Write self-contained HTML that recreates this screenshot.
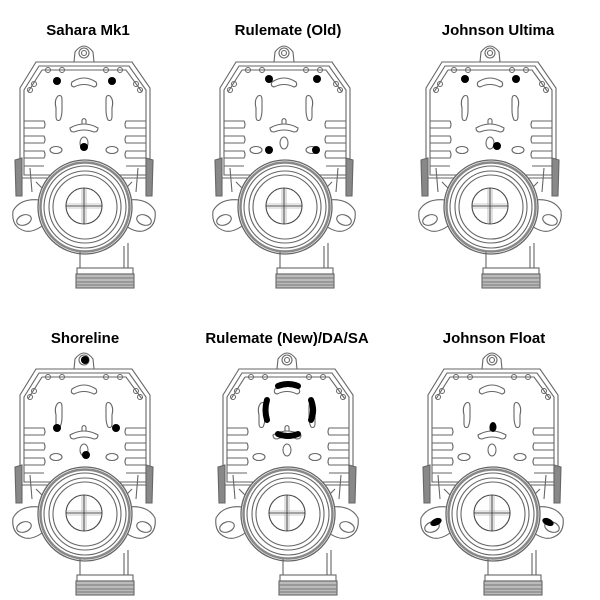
<!DOCTYPE html>
<html><head><style>
html,body{margin:0;padding:0;background:#fff;width:600px;height:600px;overflow:hidden}
svg{display:block}
text{font-family:"Liberation Sans",sans-serif;font-size:15px;fill:#000;text-anchor:middle;font-weight:600}
</style></head><body>
<svg width="600" height="600" viewBox="0 0 600 600">
<defs>
<g id="u" fill="none" stroke="#666" stroke-width="1.1">
  <path d="M74,62 L75,52 Q84,40 93,52 L94,62"/>
  <circle cx="84" cy="53" r="5"/><circle cx="84" cy="53" r="2.5"/>
  <path d="M36,62 L132,62 L150,88 L150,178 L20,178 L20,88 Z"/>
  <path d="M39,66 L129,66 L146,90 L146,175 L24,175 L24,90 Z"/>
  <path d="M42,70 L126,70 L142,92 M28,92 L42,70"/>
  <g stroke-width="1">
  <circle cx="48" cy="70" r="2.5"/><circle cx="62" cy="70" r="2.5"/><circle cx="106" cy="70" r="2.5"/><circle cx="120" cy="70" r="2.5"/>
  <circle cx="34" cy="84" r="2.5"/><circle cx="136" cy="84" r="2.5"/>
  <circle cx="30" cy="90" r="2.5"/><circle cx="140" cy="90" r="2.5"/>
  </g>
  <path d="M72,82 Q84,74 96,82 Q98,86 94,87 Q84,82 74,87 Q70,86 72,82Z"/>
  <path d="M58,96 Q54,100 56,108 L56,116 Q56,122 60,120 Q62,116 62,110 L62,100 Q62,94 58,96Z"/>
  <path d="M110,96 Q114,100 112,108 L112,116 Q112,122 108,120 Q106,116 106,110 L106,100 Q106,94 110,96Z"/>
  <path d="M70,128 Q84,120 98,128 Q98,132 94,132 Q84,128 74,132 Q70,132 70,128Z M82,124 L82,120 Q84,117 86,120 L86,124"/>
  <ellipse cx="84" cy="143" rx="4" ry="6"/>
  <ellipse cx="56" cy="150" rx="6" ry="3.5"/><ellipse cx="112" cy="150" rx="6" ry="3.5"/>
  <path d="M24,121 H44 Q46,125 44,128 H24 M24,136 H44 Q46,140 44,143 H24 M24,151 H44 Q46,155 44,158 H24 M24,166 H44"/>
  <path d="M146,121 H126 Q124,125 126,128 H146 M146,136 H126 Q124,140 126,143 H146 M146,151 H126 Q124,155 126,158 H146 M146,166 H126"/>
  <path d="M15,160 L22,158 L22,196 L16,196 Z" fill="#888"/>
  <path d="M153,160 L146,158 L146,196 L152,196 Z" fill="#888"/>
  <path d="M30,168 L32,192 M138,168 L136,192"/>
  <path d="M40,200 Q20,198 13,211 Q11,227 25,231 Q34,233 46,223"/>
  <ellipse cx="24" cy="220" rx="7.5" ry="5" transform="rotate(-20 24 220)"/>
  <path d="M128,200 Q148,198 155,211 Q157,227 143,231 Q134,233 122,223"/>
  <ellipse cx="144" cy="220" rx="7.5" ry="5" transform="rotate(20 144 220)"/>
  <path d="M36,182 L44,190 M132,182 L124,190"/>
  <circle cx="85" cy="207" r="47" fill="#fff" stroke-width="1.3"/>
  <circle cx="85" cy="207" r="44.5" stroke="#888" stroke-width="2.5"/>
  <circle cx="85" cy="207" r="41"/>
  <circle cx="85" cy="207" r="36"/>
  <circle cx="85" cy="207" r="32"/>
  <circle cx="84" cy="206" r="18" stroke="#444"/>
  <path d="M84,188 V224 M66,206 H102" stroke="#444"/>
  <path d="M82,188 V224 M86,188 V224 M66,204 H102 M66,208 H102" stroke="#999" stroke-width=".6"/>
  <path d="M80,252 V268 M124,246 V268 M128,243 V268"/>
  <rect x="77" y="268" width="56" height="6"/>
  <rect x="76" y="274" width="58" height="14" fill="#bbb"/>
  <path d="M76,278 H134 M76,282 H134 M76,285 H134" stroke="#777"/>
</g>
</defs>
<text x="88" y="35">Sahara Mk1</text>
<text x="288" y="35">Rulemate (Old)</text>
<text x="498" y="35">Johnson Ultima</text>
<text x="85" y="343">Shoreline</text>
<text x="287" y="343">Rulemate (New)/DA/SA</text>
<text x="494" y="343">Johnson Float</text>

<use href="#u" x="0" y="0"/>
<use href="#u" x="200" y="0"/>
<use href="#u" x="406" y="0"/>
<use href="#u" x="0" y="307"/>
<use href="#u" x="203" y="307"/>
<use href="#u" x="408" y="307"/>

<g fill="#000">
  <circle cx="57" cy="81" r="4"/><circle cx="112" cy="81" r="4"/><circle cx="84" cy="147" r="4"/>
  <circle cx="269" cy="79" r="4"/><circle cx="317" cy="79" r="4"/><circle cx="269" cy="150" r="4"/><circle cx="316" cy="150" r="4"/>
  <circle cx="465" cy="79" r="4"/><circle cx="516" cy="79" r="4"/><circle cx="497" cy="146" r="4"/>
  <circle cx="85" cy="360" r="4"/><circle cx="57" cy="428" r="4"/><circle cx="116" cy="428" r="4"/><circle cx="86" cy="455" r="4"/>
  <ellipse cx="493" cy="427" rx="3.5" ry="5"/>
  <ellipse cx="436" cy="522" rx="6" ry="3.5" transform="rotate(-25 436 522)"/>
  <ellipse cx="548" cy="522" rx="6" ry="3.5" transform="rotate(25 548 522)"/>
</g>
<g fill="none" stroke="#000" stroke-width="6" stroke-linecap="round">
  <path d="M278,386 Q288,382 298,386"/>
  <path d="M267,400 Q264,410 267,420"/>
  <path d="M311,400 Q315,410 311,420"/>
  <path d="M278,434 Q288,438 298,434"/>
</g>
</svg>
</body></html>
